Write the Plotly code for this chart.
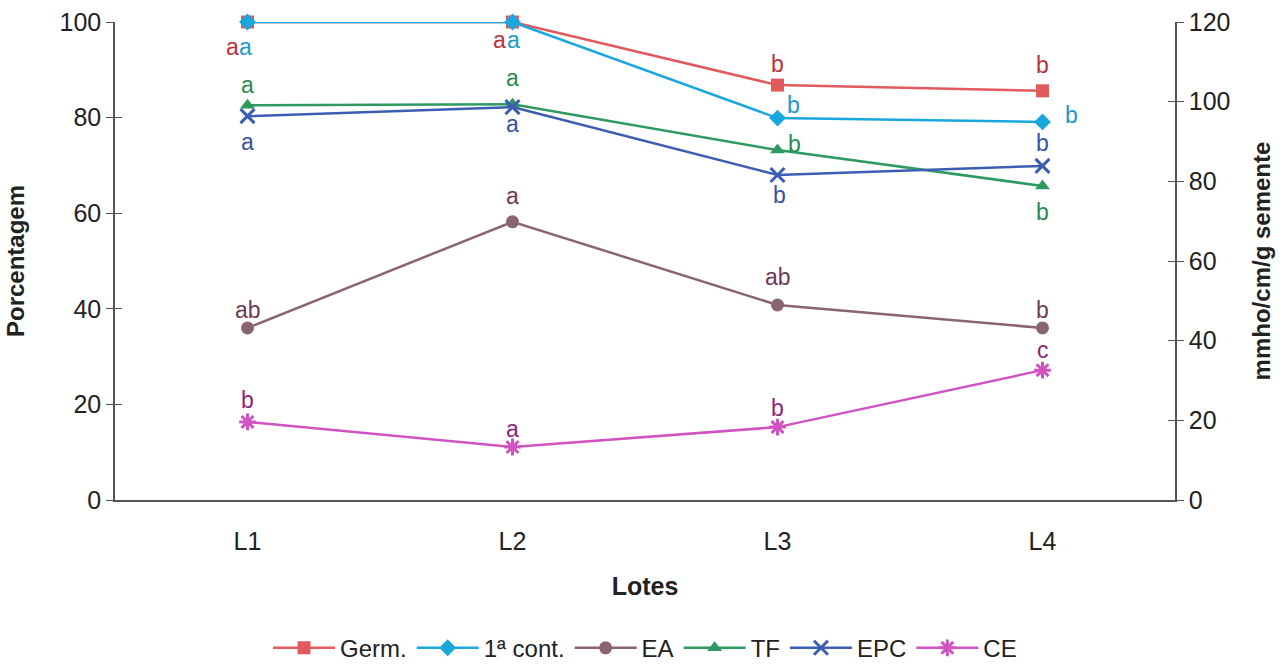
import plotly.graph_objects as go

lotes = ["L1", "L2", "L3", "L4"]

germ = [100.0, 100.0, 86.8, 85.6]
cont1 = [100.0, 100.0, 79.9, 79.1]
ea = [36.0, 58.2, 40.8, 36.0]
tf = [82.6, 82.8, 73.2, 65.7]
epc = [80.3, 82.2, 68.0, 69.9]
ce = [19.6, 13.3, 18.3, 32.6]  # mmho/cm/g semente (right axis)

letters_germ = ["a", "a", "b", "b"]
letters_cont1 = ["a", "a", "b", "b"]
letters_ea = ["ab", "a", "ab", "b"]
letters_tf = ["a", "a", "b", "b"]
letters_epc = ["a", "a", "b", "b"]
letters_ce = ["b", "a", "b", "c"]

FONT = "Liberation Sans, Arial, sans-serif"
AXIS = "#555555"

series = [
    # name, values, axis, line colour, letter colour, symbol, letters, label offsets (px)
    ("Germ.", germ, "y", "#E05A5E", "#B8323E", "square", letters_germ,
     [(-15, -25), (-13, -18), (0, 21), (0, 26)]),
    ("1ª cont.", cont1, "y", "#1AA7DD", "#1A9ACB", "diamond", letters_cont1,
     [(-2, -25), (1, -18), (16, 13), (29, 7)]),
    ("EA", ea, "y", "#8A6470", "#6E3A55", "circle", letters_ea,
     [(0, 18), (0, 26), (0, 28), (0, 18)]),
    ("TF", tf, "y", "#2E9A60", "#2A8A52", "triangle-up", letters_tf,
     [(0, 20), (0, 26), (17, 6), (0, -26)]),
    ("EPC", epc, "y", "#3B5DB2", "#3553A3", "x-thin", letters_epc,
     [(0, -26), (0, -17), (2, -20), (0, 23)]),
    ("CE", ce, "y2", "#D153C2", "#8E2477", "asterisk", letters_ce,
     [(0, 22), (0, 18), (0, 19), (0, 20)]),
]

fig = go.Figure()
annotations = []
for name, vals, axis, color, lcolor, symbol, letters, offs in series:
    open_sym = symbol in ("x-thin", "asterisk")
    fig.add_trace(go.Scatter(
        x=lotes, y=vals, name=name, yaxis=axis, mode="lines+markers",
        cliponaxis=False,
        line=dict(color=color, width=2.5),
        marker=dict(symbol=symbol, size=13 if not open_sym else 14, color=color,
                    line=dict(color=color, width=3 if open_sym else 0)),
    ))
    for xv, yv, txt, (dx, dy) in zip(lotes, vals, letters, offs):
        annotations.append(dict(
            x=xv, y=yv, xref="x", yref=axis, text=txt, showarrow=False,
            xshift=dx, yshift=dy, font=dict(family=FONT, size=23, color=lcolor),
        ))

# invisible traces so the inner tick axes get drawn
for ax in ("y3", "y4"):
    fig.add_trace(go.Scatter(x=lotes, y=[None] * 4, yaxis=ax, showlegend=False,
                             hoverinfo="skip", mode="lines"))

common_y = dict(showgrid=False, zeroline=False, tickcolor=AXIS, ticklen=7,
                tickwidth=1.2, automargin=False)

fig.update_layout(
    width=1287, height=666,
    margin=dict(l=115, r=112, t=22, b=166, autoexpand=False),
    paper_bgcolor="white", plot_bgcolor="white",
    font=dict(family=FONT, size=25, color="#222222"),
    showlegend=True,
    legend=dict(orientation="h", x=0.5, xanchor="center", y=-0.31, yanchor="middle",
                font=dict(family=FONT, size=24, color="#222222"),
                itemwidth=62, tracegroupgap=0),
    annotations=annotations,
    xaxis=dict(
        type="category", range=[-0.5, 3.5], showgrid=False, zeroline=False,
        showline=True, linecolor=AXIS, linewidth=1.5, ticks="",
        tickfont=dict(size=25), ticklabelstandoff=18, automargin=False,
        title=dict(text="<b>Lotes</b>", font=dict(size=25), standoff=24),
    ),
    yaxis=dict(
        range=[0, 100], tickvals=[0, 20, 40, 60, 80, 100],
        showline=True, linecolor=AXIS, linewidth=1.5,
        ticks="outside", tickfont=dict(size=25),
        title=dict(text="<b>Porcentagem</b>", font=dict(size=24), standoff=28),
        **common_y,
    ),
    yaxis2=dict(
        range=[0, 120], tickvals=[0, 20, 40, 60, 80, 100, 120], overlaying="y",
        side="right", showline=True, linecolor=AXIS, linewidth=1.5,
        ticks="outside", tickfont=dict(size=25),
        title=dict(text="<b>mmho/cm/g semente</b>", font=dict(size=24), standoff=24),
        **common_y,
    ),
    yaxis3=dict(
        range=[0, 100], tickvals=[0, 20, 40, 60, 80, 100], overlaying="y",
        side="left", ticks="inside", showticklabels=False, showline=False,
        **common_y,
    ),
    yaxis4=dict(
        range=[0, 120], tickvals=[0, 20, 40, 60, 80, 100, 120], overlaying="y",
        side="right", ticks="inside", showticklabels=False, showline=False,
        **common_y,
    ),
)

fig.write_html("out.html")
